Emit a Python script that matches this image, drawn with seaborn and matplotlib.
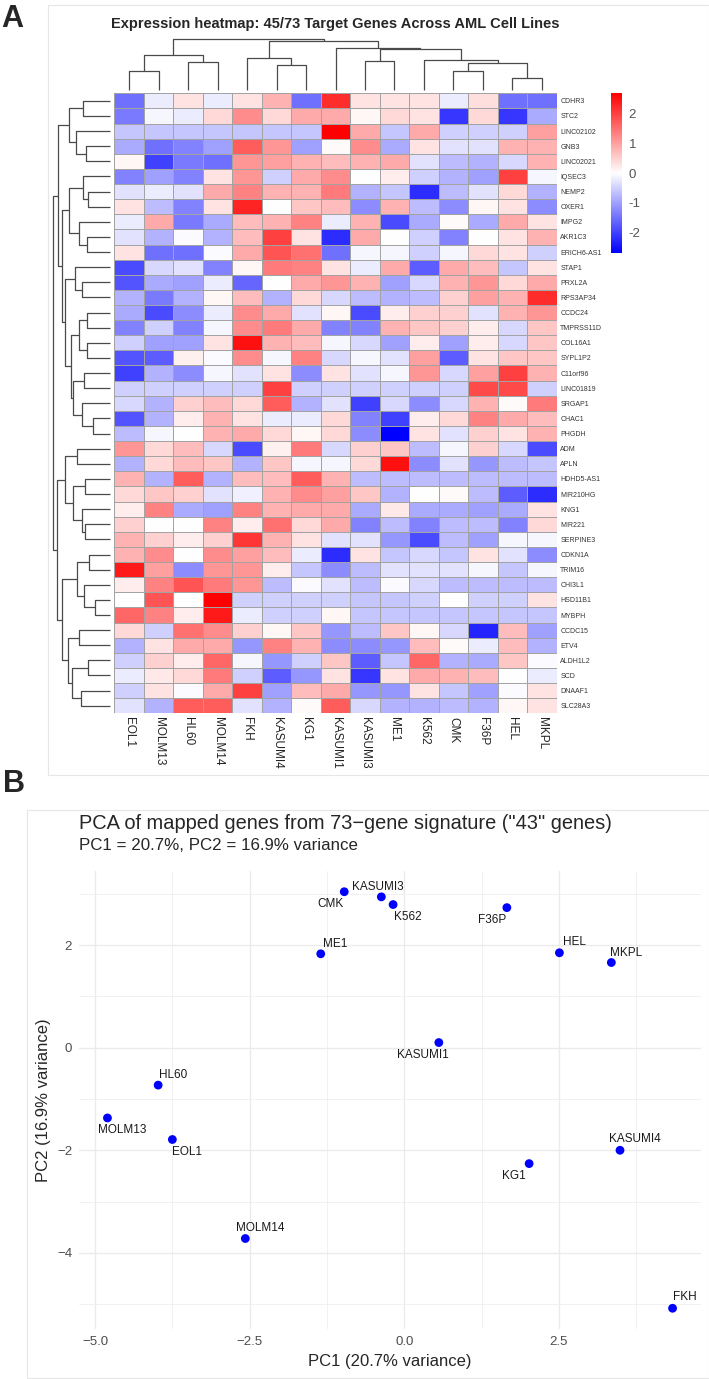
import numpy as np
import pandas as pd
import seaborn as sns
import matplotlib.pyplot as plt
from matplotlib.colors import LinearSegmentedColormap
from matplotlib.patches import Rectangle

# ---- panel A data ----
cell_lines = ['EOL1', 'MOLM13', 'HL60', 'MOLM14', 'FKH', 'KASUMI4', 'KG1', 'KASUMI1',
              'KASUMI3', 'ME1', 'K562', 'CMK', 'F36P', 'HEL', 'MKPL']
genes = ['CDHR3', 'STC2', 'LINC02102', 'GNB3', 'LINC02021', 'IQSEC3', 'NEMP2', 'OXER1',
         'IMPG2', 'AKR1C3', 'ERICH6-AS1', 'STAP1', 'PRXL2A', 'RPS3AP34', 'CCDC24',
         'TMPRSS11D', 'COL16A1', 'SYPL1P2', 'C11orf96', 'LINC01819', 'SRGAP1', 'CHAC1',
         'PHGDH', 'ADM', 'APLN', 'HDHD5-AS1', 'MIR210HG', 'KNG1', 'MIR221', 'SERPINE3',
         'CDKN1A', 'TRIM16', 'CHI3L1', 'HSD11B1', 'MYBPH', 'CCDC15', 'ETV4', 'ALDH1L2',
         'SCD', 'DNAAF1', 'SLC28A3']
zscores = [
    [-1.5, -0.2, 0.3, -0.2, 0.3, 0.8, -1.5, 2.2, 0.3, 0.3, 0.3, -0.2, 0.35, -1.5, -1.5],
    [-1.4, -0.1, -0.2, 0.4, 1.2, 0.4, 0.9, 0.9, 0.1, 0.4, 0.3, -2.1, 0.4, -2.1, -0.9],
    [-0.6, -0.6, -0.6, -0.6, -0.6, -0.6, -0.6, 2.7, 0.9, -0.6, 0.9, -0.5, -0.5, -0.5, 1.0],
    [-0.9, -1.5, -1.3, -1.0, 1.7, 1.1, -1.0, 0.05, 1.2, -0.9, 0.3, -0.3, -0.3, 0.8, 0.8],
    [0.1, -2.0, -1.4, -1.5, 1.1, 1.0, 0.8, 0.7, 0.8, 0.9, -0.3, -0.7, -0.8, -0.4, 0.8],
    [-1.3, -1.0, -1.3, 0.3, 1.1, -0.5, 0.9, 1.2, 0.0, 0.2, -0.5, -0.8, -1.0, 2.0, -0.1],
    [-0.3, -0.2, -0.3, 0.9, 1.3, 0.8, 0.8, 1.4, -0.8, -0.6, -2.2, -0.7, -0.3, 0.4, -0.8],
    [0.3, -0.7, -1.3, 0.3, 2.3, 0.0, 0.6, 0.7, -1.2, 0.8, -0.7, -1.2, 0.1, 0.3, -1.2],
    [-0.2, 0.9, -1.4, -0.9, 0.7, 0.8, 1.3, -0.2, 0.8, -1.9, -0.9, 0.05, -0.9, 0.9, 0.3],
    [-0.3, -0.8, -0.05, -0.8, 0.7, 2.0, 0.3, -2.2, 0.9, 0.0, -0.5, -1.3, 0.0, 0.3, 0.8],
    [0.3, -1.5, -1.5, -0.05, 0.9, 1.8, 1.5, -1.5, -0.1, -0.1, -0.5, -0.1, 0.4, 0.3, -0.5],
    [-1.9, -0.4, -0.3, -1.3, 0.1, 1.4, 1.3, 0.3, -0.2, 0.9, -1.7, 0.9, 0.7, -0.6, 0.3],
    [-1.8, -0.9, -1.0, -0.2, -1.6, 0.0, 0.9, 1.1, 0.8, -1.0, -0.4, 0.8, 1.1, 0.4, 0.9],
    [-0.8, -1.4, -0.8, 0.1, 0.7, -0.8, 0.4, -0.4, -0.7, -0.8, -0.7, 0.5, 1.0, 0.8, 2.2],
    [-0.9, -1.9, -1.2, -0.2, 1.2, 0.9, -0.3, 0.1, -1.9, 0.2, 0.5, 0.5, -0.3, 0.8, 1.1],
    [-1.3, -0.5, -1.3, -0.1, 1.2, 1.4, 0.9, -1.3, -1.3, 0.8, 0.6, 0.5, 0.2, -0.4, 0.6],
    [-0.5, -1.0, -1.0, 0.3, 2.5, 0.8, 0.7, -0.1, -0.4, -1.0, 0.2, -1.0, 0.2, -0.4, 0.6],
    [-1.8, -1.7, 0.15, -0.05, 1.2, -0.1, 1.3, -0.4, -0.1, -0.3, 1.0, -1.7, 0.3, 0.6, 0.6],
    [-2.0, -0.8, -1.2, -0.1, -0.3, 0.3, -1.2, 0.3, -0.3, -0.1, 1.1, -0.4, 1.0, 2.0, 0.8],
    [-0.5, -0.5, -0.5, -0.5, -0.5, 2.0, -0.5, -0.5, -0.5, -0.5, -0.5, -0.5, 1.9, 1.9, -0.5],
    [-0.4, -0.8, 0.5, 0.7, 0.4, 1.7, -0.8, -0.3, -2.0, -0.4, -1.2, -0.4, 0.8, 0.05, 1.4],
    [-1.8, -0.8, 0.2, 0.8, 0.3, -0.2, -0.2, 0.4, -1.3, -2.0, 0.2, 0.4, 1.3, 0.9, 0.7],
    [-0.7, -0.1, 0.0, 0.8, 0.9, 0.4, 0.1, 0.4, -1.2, -2.7, 0.3, -0.3, 0.5, 0.3, 0.8],
    [1.1, 0.4, 0.7, -0.4, -1.9, 0.15, 1.4, -0.4, 0.5, 0.6, -0.7, -0.1, 0.5, -0.4, -1.9],
    [-0.8, 0.4, 0.7, 0.6, -0.8, 0.6, -0.1, -0.1, 0.4, 2.5, -1.2, -0.3, -1.1, -0.7, -0.6],
    [0.8, -0.8, 1.7, -0.8, 0.7, 0.7, 1.7, 0.8, -0.7, -0.7, -0.7, -0.7, -0.7, -0.7, -0.7],
    [0.4, 0.6, 0.5, -0.3, -0.15, 0.8, 1.2, 1.0, 0.6, -0.8, 0.0, 0.05, -0.7, -1.7, -2.2],
    [0.2, 1.3, -0.9, -1.0, 1.3, 0.8, 0.9, 0.9, -0.9, 0.25, -0.9, -0.9, -1.0, -0.9, 0.3],
    [0.5, 0.0, 0.0, 1.3, 0.2, 1.5, 0.4, 0.9, -1.3, -0.7, -1.3, -0.7, -0.7, -1.3, 0.4],
    [0.8, 0.5, 0.2, 0.5, 2.1, 0.8, 0.3, -0.3, -0.3, -1.1, -1.9, -0.7, -1.0, -0.1, -0.1],
    [0.8, 1.2, 0.0, 1.2, 1.0, 0.7, -0.2, -2.2, 0.3, -0.6, -0.4, -0.6, 0.3, -0.3, -1.2],
    [2.4, 1.0, -1.2, 1.1, 1.1, 0.2, -0.6, -1.2, -0.7, -0.3, -0.3, -0.3, -0.1, -0.6, -0.1],
    [0.2, 1.3, 1.8, 1.4, 1.1, -0.7, -0.05, -0.3, -0.7, -0.05, -0.4, -0.7, -0.7, -0.7, -0.7],
    [0.0, 1.8, 0.0, 2.7, -0.5, -0.5, -0.5, -0.5, -0.6, -0.6, -0.5, 0.0, -0.5, -0.5, 0.3],
    [1.6, 1.3, 0.2, 2.4, -0.2, -0.5, -0.5, 0.1, -0.6, -0.6, -0.6, -0.6, -0.6, -0.6, -0.6],
    [0.4, -0.5, 1.5, 1.2, 0.5, 0.1, 0.6, -1.1, -0.7, 0.6, 0.1, -0.4, -2.3, 0.7, -1.0],
    [-0.8, 0.3, 0.9, 0.9, -1.1, 1.3, 0.8, -1.2, -1.2, -1.1, 0.7, 0.05, -0.2, 0.7, -0.8],
    [-0.5, 0.5, 0.2, 1.6, -0.1, -1.1, -0.5, 0.6, -1.7, -0.6, 1.6, -0.8, -0.9, 0.6, -0.05],
    [-0.2, 0.25, 0.4, 1.4, -0.5, -1.7, -1.1, 0.3, -2.1, 0.3, 0.9, 0.8, 0.7, 0.0, -0.2],
    [-0.5, 0.3, -0.05, 0.9, 2.0, -1.0, 0.7, 0.9, -1.1, -1.1, 0.3, -0.6, -1.0, -0.05, 0.3],
    [-0.3, -0.8, 1.7, 1.7, -0.3, -0.8, 0.05, 1.7, -0.4, -0.8, -0.8, -0.7, -0.8, 0.1, 0.3],
]

# dendrograms: (left, right, merge height); ints are leaf positions
col_tree = ((((0, 1, 48), (2, 3, 73), 90)),
            ((4, (5, 6, 65), 83),
             (7, ((8, 9, 75), (10, ((11, 12, 48), (13, 14, 30), 70), 77), 105), 108), 127), 133)
row_tree = (((((0, 1, 82), (2, (3, 4, 72), 102), 124),
              (((5, (6, 7, 67), 82), (8, (9, 10, 70), 94), 124),
               ((11, (12, 13, 85), 104),
                (((14, 15, 68), (16, 17, 70), 92),
                 ((18, 19, 77), (20, (21, 22, 50), 85), 110), 118), 134), 144), 156)),
            (((23, 24, 99), ((25, 26, 74), (27, (28, 29, 74), 83), 110), 134),
             (((30, 31, 64), (32, (33, 34, 46), 77), 99),
              ((35, 36, 92), ((37, 38, 65), (39, 40, 88), 113), 127), 143), 160), 172)

# ---- panel B data ----
pca_names = ['CMK', 'KASUMI3', 'K562', 'F36P', 'ME1', 'HEL', 'MKPL', 'KASUMI1',
             'HL60', 'MOLM13', 'EOL1', 'KASUMI4', 'KG1', 'MOLM14', 'FKH']
pc1 = [-0.97, -0.37, -0.18, 1.66, -1.35, 2.51, 3.35, 0.56, -3.98, -4.80, -3.75, 3.49, 2.02, -2.57, 4.34]
pc2 = [3.04, 2.94, 2.79, 2.73, 1.83, 1.85, 1.66, 0.10, -0.73, -1.37, -1.79, -2.00, -2.26, -3.72, -5.08]

sns.set_style('white')
plt.rcParams['font.family'] = ['Liberation Sans', 'DejaVu Sans']

W, H = 709, 1379
fig = plt.figure(figsize=(W / 100, H / 100), dpi=100)


def box(l, t, r, b):
    return fig.add_axes([l / W, 1 - b / H, (r - l) / W, (b - t) / H])


def draw_tree(ax, node, vertical):
    # returns (leaf-axis position, height)
    if isinstance(node, int):
        return node + 0.5, 0
    a, b, h = node
    pa, ha = draw_tree(ax, a, vertical)
    pb, hb = draw_tree(ax, b, vertical)
    xs, ys = [pa, pa, pb, pb], [ha, h, h, hb]
    if not vertical:
        xs, ys = ys, xs
    ax.plot(xs, ys, color='#4a4a4a', lw=0.9, clip_on=False, solid_capstyle='butt')
    return (pa + pb) / 2, h


# faint panel frames
for l, t, r, b in [(48, 5, 709, 775), (27, 810, 709, 1378)]:
    fig.add_artist(Rectangle((l / W, 1 - b / H), (r - l) / W, (b - t) / H, transform=fig.transFigure,
                             fill=False, edgecolor='#e6e6e6', lw=0.8))

fig.text(12 / W, 1 - 19 / H, 'A', fontsize=22, fontweight='bold', ha='center', va='center')
fig.text(14 / W, 1 - 784 / H, 'B', fontsize=22, fontweight='bold', ha='center', va='center')

# heatmap
cmap = LinearSegmentedColormap.from_list('bwr_ph', ['#0000FF', '#FFFFFF', '#FF0000'])
df = pd.DataFrame(zscores, index=genes, columns=cell_lines)
ax_hm = box(114.3, 93.3, 556.7, 713.3)
cax = box(610.7, 93.3, 621.7, 253)
sns.heatmap(df, ax=ax_hm, cmap=cmap, vmin=-2.68, vmax=2.68, linewidths=0.6, linecolor='#a3a3a3',
            cbar_ax=cax, xticklabels=True, yticklabels=True)
ax_hm.set_xticklabels(cell_lines, rotation=270, fontsize=8.5, color='#222222', ha='center', va='top')
ax_hm.set_yticklabels(genes, rotation=0, fontsize=5, color='#333333')
ax_hm.yaxis.tick_right()
ax_hm.tick_params(axis='both', length=0)
ax_hm.tick_params(axis='x', pad=2.5)
ax_hm.tick_params(axis='y', pad=2.5)
ax_hm.set_xlabel('')
ax_hm.set_ylabel('')

cbar = ax_hm.collections[0].colorbar
cbar.set_ticks([2, 1, 0, -1, -2])
cbar.set_ticklabels(['2', '1', '0', '-1', '-2'])
cbar.outline.set_visible(False)
cax.tick_params(length=0, labelsize=9.5, colors='#555555', pad=5)

ax_cd = box(114.3, 38.8, 556.7, 89.6)
draw_tree(ax_cd, col_tree, True)
ax_cd.set_xlim(0, 15)
ax_cd.set_ylim(0, 133)
ax_cd.axis('off')

ax_rd = box(52.7, 93.3, 110, 713.3)
draw_tree(ax_rd, row_tree, False)
ax_rd.set_ylim(41, 0)
ax_rd.set_xlim(172, 0)
ax_rd.axis('off')

fig.text(335.5 / W, 1 - 24 / H, 'Expression heatmap: 45/73 Target Genes Across AML Cell Lines',
         fontsize=10.5, fontweight='bold', ha='center', va='center')

# PCA
pca_df = pd.DataFrame({'name': pca_names, 'PC1': pc1, 'PC2': pc2})
ax_pc = box(79, 870.7, 701, 1329.3)
sns.scatterplot(data=pca_df, x='PC1', y='PC2', ax=ax_pc, color='#0000FF', s=40, edgecolor='none', zorder=3)

# label nudges in pixels (dx right, dy down)
nudge = {'CMK': (-14, 12), 'KASUMI3': (-3.5, -10), 'K562': (15, 12), 'F36P': (-15, 12),
         'ME1': (14.5, -10), 'HEL': (15, -10.5), 'MKPL': (15, -10), 'KASUMI1': (-16, 12),
         'HL60': (15, -10), 'MOLM13': (15, 12), 'EOL1': (15, 12.5), 'KASUMI4': (15, -11),
         'KG1': (-15, 12), 'MOLM14': (15, -10.5), 'FKH': (12, -11.5)}
for _, r in pca_df.iterrows():
    dx, dy = nudge[r['name']]
    ax_pc.annotate(r['name'], (r['PC1'], r['PC2']), xytext=(dx * 0.72, -dy * 0.72),
                   textcoords='offset points', ha='center', va='center', fontsize=8.5, color='#1a1a1a')

ax_pc.set_xlim(-5.26, 4.80)
ax_pc.set_ylim(-5.49, 3.45)
ax_pc.set_xticks([-5, -2.5, 0, 2.5])
ax_pc.set_xticklabels(['\u22125.0', '\u22122.5', '0.0', '2.5'])
ax_pc.set_yticks([-4, -2, 0, 2])
ax_pc.set_yticklabels(['\u22124', '\u22122', '0', '2'])
ax_pc.set_xticks([-3.75, -1.25, 1.25, 3.75], minor=True)
ax_pc.set_yticks([-5, -3, -1, 1, 3], minor=True)
ax_pc.grid(which='major', color='#EBEBEB', lw=1.0)
ax_pc.grid(which='minor', color='#EFEFEF', lw=0.6)
ax_pc.set_axisbelow(True)
sns.despine(ax=ax_pc, left=True, bottom=True)
ax_pc.tick_params(which='both', length=0, labelsize=9.5, colors='#4D4D4D', pad=5)
ax_pc.set_xlabel('PC1 (20.7% variance)', fontsize=12, labelpad=4)
ax_pc.set_ylabel('PC2 (16.9% variance)', fontsize=12, labelpad=4)

fig.text(79 / W, 1 - 823 / H, 'PCA of mapped genes from 73\u2212gene signature ("43" genes)',
         fontsize=14.4, ha='left', va='center')
fig.text(79 / W, 1 - 845 / H, 'PC1 = 20.7%, PC2 = 16.9% variance', fontsize=12.2, ha='left', va='center')

fig.savefig('out.png', dpi=100)
